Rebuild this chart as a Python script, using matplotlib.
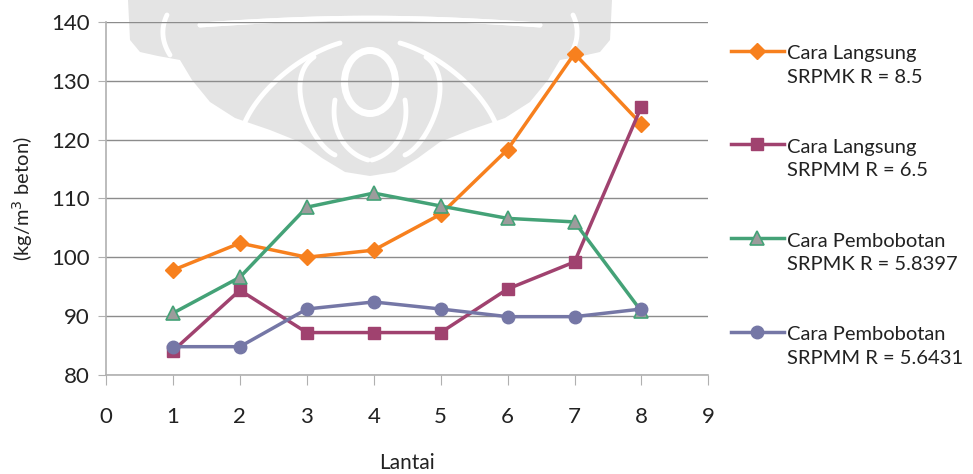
import matplotlib.pyplot as plt
from matplotlib.legend_handler import HandlerLine2D
from matplotlib.lines import Line2D
from matplotlib.patches import Polygon, Ellipse
import numpy as np

plt.rcParams['font.family'] = ['Lato', 'DejaVu Sans']

lantai = [1, 2, 3, 4, 5, 6, 7, 8]

langsung_srpmk = [97.8, 102.4, 100.0, 101.2, 107.3, 118.3, 134.6, 122.6]
langsung_srpmm = [84.1, 94.4, 87.2, 87.2, 87.2, 94.6, 99.2, 125.6]
bobot_srpmk = [90.5, 96.6, 108.5, 110.9, 108.7, 106.6, 106.0, 90.8]
bobot_srpmm = [84.8, 84.8, 91.2, 92.4, 91.2, 89.9, 89.9, 91.2]

labels = ['Cara Langsung\nSRPMK R = 8.5',
          'Cara Langsung\nSRPMM R = 6.5',
          'Cara Pembobotan\nSRPMK R = 5.8397',
          'Cara Pembobotan\nSRPMM R = 5.6431']


class FirstLineHandler(HandlerLine2D):
    # put the legend key next to the first line of a two-line label
    def create_artists(self, legend, orig_handle, xdescent, ydescent,
                       width, height, fontsize, trans):
        return super().create_artists(legend, orig_handle, xdescent,
                                      ydescent - 1.45 * fontsize, width, height,
                                      fontsize, trans)


def smooth(pts, n=80):
    pts = np.asarray(pts, float)
    s = np.linspace(0, 1, len(pts))
    u = np.linspace(0, 1, n)
    x = np.polyval(np.polyfit(s, pts[:, 0], min(3, len(pts) - 1)), u)
    y = np.polyval(np.polyfit(s, pts[:, 1], min(3, len(pts) - 1)), u)
    return x, y


fig = plt.figure(figsize=(9.73, 4.74), dpi=100)

# faint ornament in the background, in pixel coordinates
bg = fig.add_axes([0, 0, 1, 1], zorder=-1)
bg.set_xlim(0, 973)
bg.set_ylim(474, 0)
bg.axis('off')
grey = '#E4E4E4'
orn = [(128, 0), (612, 0), (610, 40), (600, 52), (582, 56), (560, 60),
       (548, 80), (530, 102), (505, 118), (470, 130), (440, 142), (418, 158),
       (395, 172), (370, 176), (345, 172), (322, 158), (300, 142), (270, 130),
       (235, 118), (210, 102), (192, 80), (180, 60), (158, 56), (140, 52),
       (130, 40)]
bg.add_patch(Polygon(orn, closed=True, fc=grey, ec='none'))

curves = [
    [(200, 26), (290, 16), (370, 24), (450, 16), (540, 26)],
    [(340, 43), (300, 62), (265, 92), (243, 127)],
    [(314, 57), (300, 90), (312, 130), (335, 155)],
    [(335, 100), (337, 130), (350, 150), (368, 160)],
    [(167, 15), (163, 35), (170, 55)],
]
for c in curves:
    x, y = smooth(c)
    bg.plot(x, y, color='white', lw=3.5, solid_capstyle='round')
    bg.plot(740 - x, y, color='white', lw=3.5, solid_capstyle='round')
bg.add_patch(Ellipse((370, 82), 58, 70, fc='white', ec='none'))
bg.add_patch(Ellipse((370, 82), 44, 56, fc=grey, ec='none'))

ax = fig.add_axes([0.109, 0.209, 0.619, 0.745])
ax.patch.set_alpha(0)

ax.plot(lantai, langsung_srpmk, color='#F7801E', lw=2.5, marker='D', ms=8,
        markerfacecolor='#F7801E', markeredgecolor='#F7801E', label=labels[0])
ax.plot(lantai, langsung_srpmm, color='#A0426F', lw=2.5, marker='s', ms=9,
        markerfacecolor='#A0426F', markeredgecolor='#A0426F', label=labels[1])
ax.plot(lantai, bobot_srpmk, color='#44A277', lw=2.5, marker='^', ms=10,
        markerfacecolor='#9C9C9C', markeredgecolor='#44A277', markeredgewidth=1.2,
        label=labels[2])
ax.plot(lantai, bobot_srpmm, color='#7577A6', lw=2.5, marker='o', ms=9,
        markerfacecolor='#7577A6', markeredgecolor='#7577A6', label=labels[3])

ax.set_xlim(0, 9)
ax.set_ylim(80, 140)
ax.set_xticks(range(0, 10))
ax.set_yticks(range(80, 141, 10))
ax.yaxis.grid(True, color='#8C8C8C', lw=1)
ax.set_axisbelow(True)

for s in ['top', 'right']:
    ax.spines[s].set_visible(False)
for s in ['left', 'bottom']:
    ax.spines[s].set_color('#B0B0B0')
    ax.spines[s].set_linewidth(1.2)

ax.tick_params(axis='x', direction='out', length=7, color='#B0B0B0', pad=16,
               labelsize=16, labelcolor='#222222')
ax.tick_params(axis='y', direction='out', length=6, color='#B0B0B0', pad=6,
               labelsize=16, labelcolor='#222222')

ax.set_xlabel('Lantai', fontsize=15, labelpad=19, color='#222222')
ax.set_ylabel('(kg/m$^3$ beton)', fontsize=14.5, labelpad=11, color='#222222')

leg = ax.legend(loc='upper left', bbox_to_anchor=(1.008, 0.985), frameon=False,
                fontsize=14.5, handlelength=2.6, handletextpad=0.15,
                labelspacing=2.65, labelcolor='#222222',
                handler_map={Line2D: FirstLineHandler()})
for txt in leg.get_texts():
    txt.set_linespacing(1.45)

fig.savefig('out.png', dpi=100)
